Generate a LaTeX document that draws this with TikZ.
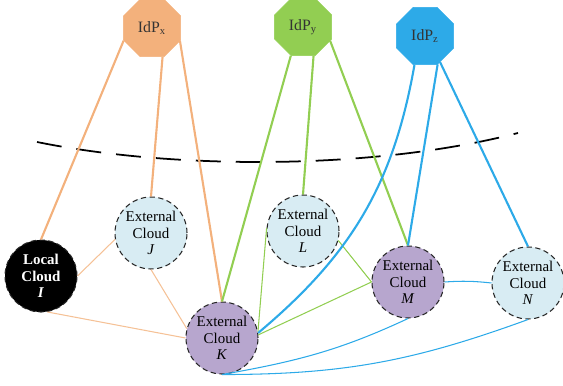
\documentclass[tikz,border=0pt]{standalone}
\usepackage{fontspec}
\setmainfont{Liberation Serif}
\usepackage{xcolor}
\usetikzlibrary{shapes.geometric}

\definecolor{idpx}{RGB}{243,177,124}
\definecolor{idpy}{RGB}{146,206,82}
\definecolor{idpz}{RGB}{45,170,232}
\definecolor{extblue}{RGB}{216,236,243}
\definecolor{extpurple}{RGB}{183,166,206}

\begin{document}
\begin{tikzpicture}[
	idp/.style={regular polygon, regular polygon sides=8, minimum size=1.24cm, inner sep=0pt, text=black!80, font=\fontsize{9}{10}\selectfont},
	cloud/.style={circle, minimum size=1.44cm, inner sep=0pt, draw=black!85, densely dashed, line width=0.6pt, align=center, font=\fontsize{8.5}{9.5}\selectfont},
	tie/.style={line width=1.2pt, solid},
	link/.style={line width=0.6pt, solid}
	]
			\useasboundingbox (0,0) rectangle (11.26,7.7);
			
			% boundary
			\draw[dash pattern=on 0.5cm off 0.3cm, line width=1pt] (0.74,4.86) .. controls (3.5,4.3) and (7.5,4.3) .. (10.36,5.04);
			
			% node point
			\node[idp, fill=idpx, draw=idpx] (IdPx) at (3.04,7.14) {IdP\textsubscript{x}};
			\node[idp, fill=idpy, draw=idpy] (IdPy) at (6.06,7.16) {IdP\textsubscript{y}};
			\node[idp, fill=idpz, draw=idpz] (IdPz) at (8.5,6.98) {IdP\textsubscript{z}};
			
			\node[cloud, fill=black, text=white] (I) at (0.82,2.18) {\textbf{Local}\\\textbf{Cloud}\\\textbf{\textit{I}}};
			\node[cloud, fill=extblue] (J) at (3.02,3.04) {External\\Cloud\\\textit{J}};
			\node[cloud, fill=extpurple] (K) at (4.44,0.94) {External\\Cloud\\\textit{K}};
			\node[cloud, fill=extblue] (L) at (6.06,3.08) {External\\Cloud\\\textit{L}};
			\node[cloud, fill=extpurple] (M) at (8.16,2.06) {External\\Cloud\\\textit{M}};
			\node[cloud, fill=extblue] (N) at (10.56,2.04) {External\\Cloud\\\textit{N}};
			
			% IdP x
			\draw[tie, idpx] (IdPx.204) -- (I.north);
			\draw[tie, idpx] (IdPx.290) -- (J.north);
			\draw[tie, idpx] (IdPx.335) -- (K.north);
			\draw[link, idpx!80] (I.east) -- (J.190);
			\draw[link, idpx!80] (I.-80) -- (K.west);
			\draw[link, idpx!80] (J.south) -- (K.165);
			
			% IdP y
			\draw[tie, idpy] (IdPy.247) -- (K.north);
			\draw[tie, idpy] (IdPy.290) -- (L.north);
			\draw[tie, idpy] (IdPy.333) -- (M.north);
			\draw[link, idpy] (L.175) -- (K.10);
			\draw[link, idpy] (L.-15) -- (M.west);
			\draw[link, idpy] (K.5) -- (M.west);
			
			% IdP z
			\draw[tie, idpz] (IdPz.250) to[out=-100, in=40] (K.8);
			\draw[tie, idpz] (IdPz.294) -- (M.north);
			\draw[tie, idpz] (IdPz.300) -- (N.north);
			\draw[link, idpz] (M.east) to[bend left=5] (N.west);
			\draw[link, idpz] (K.south) to[out=10, in=-155] (M.south);
			\draw[link, idpz] (K.south) to[out=0, in=-160] (N.south);
			
\end{tikzpicture}
\end{document}
